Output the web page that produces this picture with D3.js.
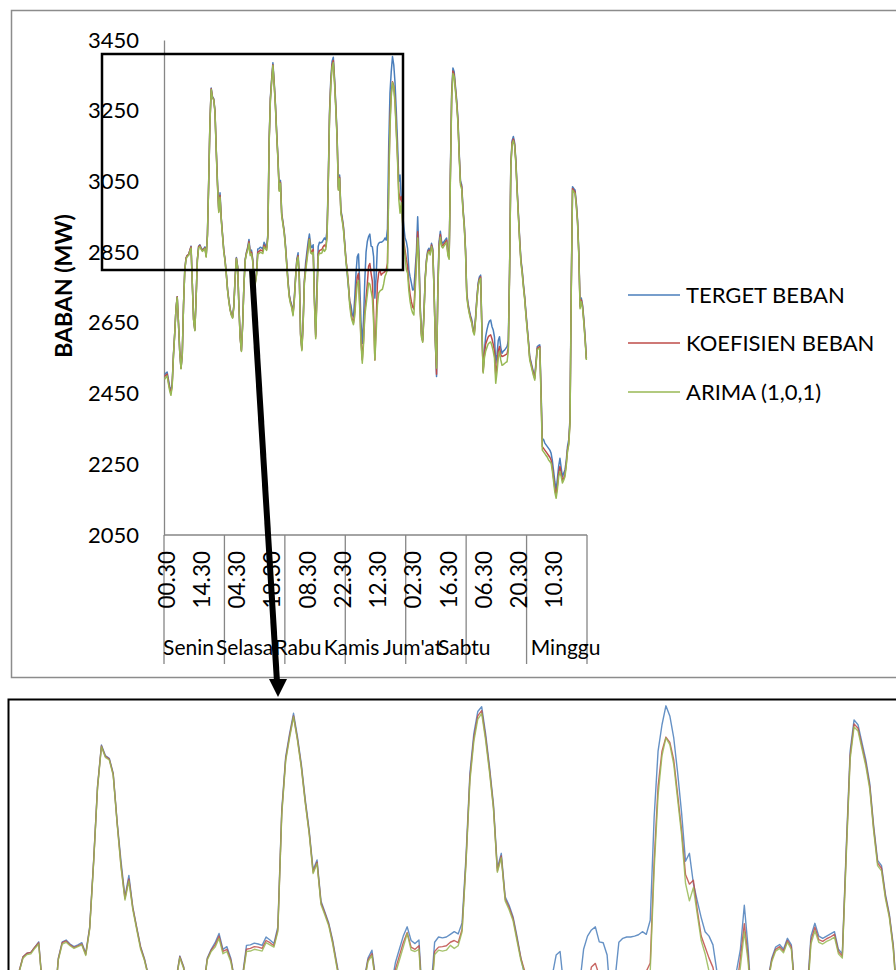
<!DOCTYPE html>
<html><head><meta charset="utf-8">
<script src="https://cdn.jsdelivr.net/npm/d3@7"></script>
<style>body{margin:0;background:#fff;} svg{display:block;font-family:Lato,"Open Sans",sans-serif;}</style>
</head><body>
<svg id="c" width="896" height="970"></svg>
<script>
const days = ["Senin","Selasa","Rabu","Kamis","Jum'at","Sabtu","Minggu"];
const tickLabels = ["00.30","14.30","04.30","18.30","08.30","22.30","12.30","02.30","16.30","06.30","20.30","10.30"];
const yTicks = [2050,2250,2450,2650,2850,3050,3250,3450];
const seriesNames = ["TERGET BEBAN","KOEFISIEN BEBAN","ARIMA (1,0,1)"];

const targetBeban = [
2503,2508,2511,2490,2470,2455,2480,2560,2620,2690,2724,2650,2570,2522,2560,2700,
2800,2833,2841,2843,2855,2867,2760,2660,2630,2720,2830,2867,2871,2862,2856,2860,
2865,2841,2901,3050,3220,3314,3290,3284,3250,3140,3050,2969,3018,2946,2900,2856,
2828,2790,2745,2715,2690,2675,2667,2700,2780,2835,2810,2700,2610,2573,2650,2760,
2830,2850,2865,2886,2850,2856,2830,2780,2765,2790,2859,2860,2864,2862,2859,2878,
2871,2863,2901,3166,3287,3340,3386,3333,3270,3190,3120,3030,3053,2960,2935,2909,
2870,2820,2770,2730,2712,2700,2678,2720,2780,2830,2848,2780,2620,2579,2650,2770,
2820,2850,2880,2901,2870,2863,2871,2720,2616,2750,2866,2878,2876,2878,2884,2890,
2885,2910,3060,3250,3340,3390,3401,3340,3265,3180,3034,3068,2969,2950,2924,2880,
2830,2790,2750,2712,2700,2675,2667,2720,2790,2837,2845,2760,2650,2592,2660,2770,
2850,2880,2894,2901,2867,2865,2837,2720,2780,2866,2875,2878,2878,2880,2883,2890,
2884,2916,3150,3300,3360,3403,3380,3330,3250,3160,3050,3068,3000,2960,2922,2890,
2880,2860,2800,2780,2763,2743,2745,2800,2850,2950,2850,2700,2620,2602,2680,2780,
2830,2855,2861,2850,2875,2860,2750,2600,2498,2750,2880,2909,2880,2875,2880,2885,
2890,2850,2840,3080,3300,3371,3360,3320,3280,3227,3130,3052,3040,2975,2930,2860,
2735,2705,2686,2670,2658,2635,2625,2667,2720,2762,2780,2785,2639,2517,2570,2611,
2630,2645,2655,2658,2640,2630,2610,2536,2560,2600,2611,2580,2564,2570,2573,2578,
2583,2600,2800,3100,3165,3177,3160,3111,3030,2960,2890,2830,2800,2760,2724,2680,
2639,2600,2555,2540,2525,2510,2498,2540,2583,2586,2588,2460,2323,2320,2310,2305,
2300,2295,2290,2281,2260,2230,2200,2177,2210,2245,2267,2240,2215,2225,2234,2260,
2300,2320,2380,2752,3035,3030,3026,2990,2941,2850,2700,2720,2700,2660,2610,2550];

const koefisienBeban = [
2498,2502,2505,2484,2464,2450,2476,2558,2620,2690,2724,2650,2570,2522,2560,2700,
2800,2833,2841,2843,2855,2865,2760,2660,2630,2720,2828,2865,2869,2860,2854,2858,
2862,2838,2898,3048,3218,3312,3288,3282,3248,3138,3040,2965,3010,2944,2898,2854,
2826,2788,2743,2713,2688,2673,2665,2698,2778,2833,2808,2698,2608,2571,2648,2758,
2828,2848,2860,2880,2845,2850,2826,2778,2763,2788,2850,2852,2856,2855,2852,2870,
2865,2858,2895,3160,3282,3335,3380,3328,3265,3185,3115,3025,3048,2956,2932,2906,
2866,2816,2766,2726,2708,2696,2674,2716,2776,2826,2840,2776,2616,2575,2646,2766,
2805,2835,2865,2888,2855,2850,2858,2712,2610,2735,2845,2855,2856,2858,2866,2870,
2865,2895,3050,3240,3330,3380,3392,3332,3258,3174,3028,3062,2964,2945,2920,2875,
2830,2800,2760,2710,2680,2660,2650,2680,2740,2780,2790,2700,2600,2545,2600,2680,
2720,2760,2810,2818,2790,2767,2680,2545,2650,2760,2790,2800,2785,2790,2792,2795,
2800,2819,3050,3220,3300,3332,3320,3280,3200,3120,3020,2998,3007,2939,2880,2855,
2830,2809,2760,2730,2710,2695,2689,2760,2830,2908,2830,2690,2615,2598,2676,2776,
2826,2850,2856,2846,2870,2855,2745,2600,2505,2740,2870,2900,2872,2868,2874,2878,
2884,2845,2835,3070,3290,3362,3352,3312,3272,3220,3124,3046,3034,2970,2926,2855,
2730,2700,2680,2665,2652,2630,2620,2662,2715,2756,2774,2780,2634,2512,2560,2590,
2600,2610,2614,2616,2605,2590,2570,2503,2530,2570,2583,2560,2555,2556,2558,2560,
2562,2580,2795,3095,3160,3170,3155,3105,3025,2955,2885,2825,2795,2755,2720,2675,
2634,2595,2550,2535,2520,2505,2493,2535,2578,2581,2583,2450,2300,2295,2290,2285,
2280,2275,2270,2262,2240,2210,2180,2165,2190,2225,2244,2225,2205,2210,2222,2250,
2290,2310,2372,2745,3030,3025,3020,2985,2936,2845,2695,2715,2695,2655,2605,2548];

const arima101 = [
2490,2495,2500,2478,2458,2445,2470,2555,2618,2688,2722,2648,2568,2520,2558,2698,
2798,2830,2838,2840,2852,2862,2758,2658,2628,2718,2826,2862,2866,2858,2852,2856,
2860,2836,2895,3045,3215,3310,3286,3280,3245,3135,3036,2962,3005,2940,2895,2850,
2824,2786,2741,2711,2686,2671,2663,2696,2776,2831,2806,2696,2606,2569,2646,2756,
2826,2845,2855,2875,2840,2845,2822,2775,2760,2785,2845,2846,2850,2848,2846,2865,
2860,2855,2890,3155,3278,3330,3378,3325,3262,3182,3112,3022,3045,2952,2928,2903,
2862,2812,2762,2722,2704,2692,2670,2712,2772,2822,2836,2772,2612,2571,2642,2762,
2795,2825,2855,2886,2848,2845,2850,2705,2605,2725,2838,2848,2846,2848,2859,2852,
2858,2890,3045,3232,3322,3372,3386,3325,3252,3170,3025,3058,2960,2940,2915,2870,
2825,2795,2755,2700,2670,2655,2645,2670,2720,2760,2770,2690,2590,2536,2590,2670,
2700,2730,2763,2760,2740,2720,2650,2545,2620,2700,2734,2740,2743,2745,2760,2781,
2790,2800,3030,3200,3290,3330,3315,3270,3190,3110,3000,2960,2990,2930,2870,2840,
2800,2790,2740,2710,2690,2678,2672,2740,2810,2890,2820,2685,2610,2595,2672,2772,
2822,2846,2852,2842,2866,2850,2740,2600,2522,2730,2862,2892,2866,2862,2868,2872,
2878,2840,2830,3060,3282,3355,3346,3306,3266,3214,3118,3040,3028,2965,2922,2850,
2725,2695,2676,2660,2648,2625,2616,2658,2710,2752,2770,2776,2630,2508,2550,2570,
2580,2590,2594,2596,2585,2570,2550,2479,2510,2550,2569,2545,2530,2532,2535,2538,
2540,2570,2790,3090,3155,3165,3150,3100,3020,2950,2880,2820,2790,2750,2716,2670,
2630,2590,2545,2530,2515,2500,2488,2530,2574,2577,2579,2440,2290,2285,2280,2275,
2270,2262,2258,2253,2230,2200,2170,2154,2180,2215,2230,2215,2197,2205,2215,2245,
2285,2305,2365,2740,3025,3020,3015,2980,2932,2840,2690,2710,2690,2650,2600,2545];

const series = [
  {name: seriesNames[0], values: targetBeban, color: "#4A7EBB"},
  {name: seriesNames[1], values: koefisienBeban, color: "#BE4B48"},
  {name: seriesNames[2], values: arima101, color: "#98B954"}
];
const N = targetBeban.length;
const perDay = N / days.length;
const labelStep = 28;
// positions (in category units) where the day captions sit in the reference
const dayCaptionAt = [19, 63.5, 106, 148.5, 197, 238, 318.5];

const svg = d3.select("#c");
svg.append("rect").attr("width",896).attr("height",970).attr("fill","#fff");

const axisGray = "#868686";
// outer chart frame
svg.append("rect").attr("x",11.5).attr("y",10.5).attr("width",900).attr("height",667)
  .attr("fill","none").attr("stroke","#8c8c8c").attr("stroke-width",1.5);

const x = d3.scaleLinear().domain([-0.5, N-0.5]).range([164, 587]);
const y = d3.scaleLinear().domain([2050, 3450]).range([535, 40]);

// y axis
const yAxis = d3.axisLeft(y).tickValues(yTicks).tickSize(0).tickPadding(25).tickFormat(d3.format("d"));
const gy = svg.append("g").attr("transform","translate(164,0)").call(yAxis);
gy.select(".domain").attr("stroke",axisGray).attr("stroke-width",1.3);
gy.selectAll("text").attr("font-size",22).attr("fill","#000").attr("font-family","Lato");

// x axis line
svg.append("line").attr("x1",x(-0.5)).attr("x2",x(N-0.5)).attr("y1",535).attr("y2",535)
  .attr("stroke",axisGray).attr("stroke-width",1.3);
// day dividers
d3.range(days.length+1).forEach(k=>{
  svg.append("line").attr("x1",x(k*perDay-0.5)).attr("x2",x(k*perDay-0.5))
    .attr("y1",535).attr("y2",664).attr("stroke",axisGray).attr("stroke-width",1.3);
});
// time tick labels
tickLabels.forEach((t,k)=>{
  const px = x(k*labelStep);
  svg.append("text").attr("transform",`translate(${px+2},551) rotate(-90)`)
    .attr("text-anchor","end").attr("dy","0.36em").attr("font-size",22.5).text(t);
});
// day labels
days.forEach((d,k)=>{
  svg.append("text").attr("x",x(dayCaptionAt[k])).attr("y",655).attr("text-anchor","middle")
    .attr("font-size",21).text(d);
});
// y title
svg.append("text").attr("transform","translate(72,286) rotate(-90)").attr("text-anchor","middle")
  .attr("font-weight","bold").attr("font-size",23).text("BABAN (MW)");

// lines
const line = d3.line().x((d,i)=>x(i)).y(d=>y(d));
series.forEach(s=>{
  svg.append("path").attr("d",line(s.values)).attr("fill","none")
    .attr("stroke",s.color).attr("stroke-width",1.5).attr("stroke-linejoin","round");
});

// legend
const legY = [295, 343, 392];
series.forEach((s,k)=>{
  svg.append("line").attr("x1",628).attr("x2",680).attr("y1",legY[k]).attr("y2",legY[k])
    .attr("stroke",s.color).attr("stroke-width",1.3);
  svg.append("text").attr("x",686).attr("y",legY[k]).attr("dy","0.36em").attr("font-size",22).text(s.name);
});

// zoom rectangle on top chart
svg.append("rect").attr("x",102).attr("y",54).attr("width",301).attr("height",216)
  .attr("fill","none").attr("stroke","#000").attr("stroke-width",2.5);

// inset panel (magnified)
svg.append("defs").append("clipPath").attr("id","inset").append("rect")
  .attr("x",9).attr("y",700).attr("width",890).attr("height",272);
const xi = d3.scaleLinear().domain([37.4, 37.4 + 793/3.92]).range([103, 896]);
const yi = d3.scaleLinear().domain([3314, 2803]).range([745, 970]);
const linei = d3.line().x((d,i)=>xi(i)).y(d=>yi(d));
const gi = svg.append("g").attr("clip-path","url(#inset)");
series.forEach(s=>{
  gi.append("path").attr("d",linei(s.values)).attr("fill","none")
    .attr("stroke",s.color).attr("stroke-width",1.4).attr("stroke-opacity",0.85).attr("stroke-linejoin","round");
});
svg.append("rect").attr("x",8.5).attr("y",699.5).attr("width",900).attr("height",300)
  .attr("fill","none").attr("stroke","#000").attr("stroke-width",2);

// arrow
svg.append("line").attr("x1",252).attr("y1",270).attr("x2",277).attr("y2",682)
  .attr("stroke","#000").attr("stroke-width",6);
svg.append("path").attr("d","M278,697 L269,679 L287,679 Z").attr("fill","#000");
</script>
</body></html>
